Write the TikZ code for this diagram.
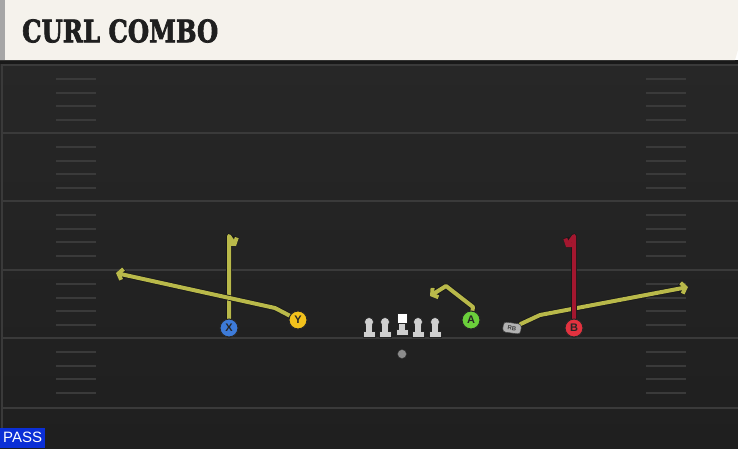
\documentclass[tikz,border=0pt]{standalone}
\usepackage{fontspec}
\setsansfont{Liberation Sans}
\newfontfamily\titelfont{DejaVu Serif}[BoldFeatures={FakeBold=2.5}]
\usetikzlibrary{arrows.meta}
\definecolor{kopf}{HTML}{F5F2EC}
\definecolor{feld}{HTML}{272727}
\definecolor{feldunten}{HTML}{1F1F1F}
\definecolor{linie}{HTML}{3A3A3A}
\definecolor{gelb}{HTML}{B9B94A}
\definecolor{rot}{HTML}{A3172F}
\definecolor{blau}{HTML}{3D7BD9}
\definecolor{gelbkreis}{HTML}{F2C11C}
\definecolor{gruen}{HTML}{6BCF3B}
\definecolor{rotkreis}{HTML}{E2323F}
\definecolor{passblau}{HTML}{0B2FD6}
\definecolor{mann}{HTML}{CFCFCF}
\tikzset{
  route/.style={line width=4pt, draw=#1, line join=round, line cap=round,
    -{Straight Barb[length=4pt,width=11pt,line width=4pt]},
    preaction={draw=black!90, line width=5.6pt, line join=round, line cap=round,
      -{Straight Barb[length=4pt,width=11pt,line width=5.6pt]}}},
  route/.default=gelb,
  spieler/.style={circle, draw=black!85, line width=1pt, minimum size=18pt, inner sep=0pt,
    fill=#1, font=\sffamily\bfseries\fontsize{11}{11}\selectfont, text=black!85},
  rb/.style={draw=black!80, fill=black!30, rounded corners=3pt, minimum width=18pt,
    minimum height=10pt, inner sep=0pt, font=\sffamily\bfseries\fontsize{6}{6}\selectfont,
    text=black!75, rotate=-8}
}
\begin{document}
\begin{tikzpicture}[x=1pt,y=-1pt]
        \useasboundingbox (0,0) rectangle (738,448);
        % Feld
        \shade[top color=feld, bottom color=feldunten] (0,60) rectangle (738,448);
        \fill[black!90] (0,60) rectangle (738,64);
        \draw[linie, line width=2pt] (2,64) -- (2,448);
        % Yardlinien
        \foreach \y in {65,133,201,270,338,408}
            \draw[linie, line width=2pt] (3,\y) -- (738,\y);
        % Hashmarks
        \foreach \y in {65,133,201,270,338} {
            \foreach \d in {14,28,41,55} {
                \draw[linie, line width=1.5pt] (56,\y+\d) -- (96,\y+\d);
                \draw[linie, line width=1.5pt] (646,\y+\d) -- (686,\y+\d);
            }
        }
        % Kopfzeile
        \fill[kopf] (0,0) -- (738,0) -- (738,50) -- (735,60) -- (0,60) -- cycle;
        \fill[black!35] (0,0) rectangle (5,60);
        \node[anchor=west, inner sep=0pt, text=black!88] (titel) at (22,31)
            {\resizebox{196pt}{23pt}{\titelfont\bfseries CURL COMBO}};
        % Routen
        \coordinate (xoben) at (229,236);
        \coordinate (xende) at (236,246);
        \coordinate (yknick) at (275,308);
        \coordinate (yende) at (116,273);
        \coordinate (aknick) at (473,307);
        \coordinate (aoben) at (446,286);
        \coordinate (aende) at (430,296);
        \coordinate (rbknick) at (540,315);
        \coordinate (rbende) at (688,287);
        \coordinate (boben) at (574,236);
        \coordinate (bende) at (566,247);
        \node[spieler=blau] (X) at (229,328) {X};
        \node[spieler=gelbkreis] (Y) at (298,320) {Y};
        \node[spieler=gruen] (A) at (471,320) {A};
        \node[spieler=rotkreis] (B) at (574,328) {B};
        \node[rb] (RB) at (512,328) {RB};
        \draw[route] (X) -- (xoben) -- (xende);
        \draw[route] (Y) -- (yknick) -- (yende);
        \draw[route] (A) -- (aknick) -- (aoben) -- (aende);
        \draw[route] (RB) -- (rbknick) -- (rbende);
        \draw[route=rot] (B) -- (boben) -- (bende);
        \node[spieler=blau] at (X) {X};
        \node[spieler=gelbkreis] at (Y) {Y};
        \node[spieler=gruen] at (A) {A};
        \node[spieler=rotkreis] at (B) {B};
        \node[rb] at (RB) {RB};
        % Linie
        \foreach \x in {369,385,418,435} {
            \filldraw[mann, draw=black!85, line width=0.6pt] (\x-6,331) rectangle (\x+6,337);
            \filldraw[mann, draw=black!85, line width=0.6pt] (\x-3,322) rectangle (\x+3,331);
            \filldraw[mann, draw=black!85, line width=0.6pt] (\x,322) circle (4.5);
            \fill[mann] (\x-2.7,322) rectangle (\x+2.7,336);
        }
        \filldraw[mann, draw=black!85, line width=0.6pt] (396,329) rectangle (408,335);
        \filldraw[mann, draw=black!85, line width=0.6pt] (399,322) rectangle (405,329);
        \fill[mann] (399.3,322) rectangle (404.7,334);
        \node[fill=white, draw=black!85, minimum size=10pt, inner sep=0pt] (C) at (402,318) {};
        % Ball
        \node[circle, fill=black!45, draw=black!80, minimum size=9pt, inner sep=0pt] (ball) at (402,354) {};
        % Pass
        \node[fill=passblau, text=white, font=\sffamily\fontsize{15}{15}\selectfont, anchor=south west,
            minimum width=45pt, minimum height=20pt, inner sep=1pt] (pass) at (0,448) {PASS};
    \end{tikzpicture}
\end{document}
